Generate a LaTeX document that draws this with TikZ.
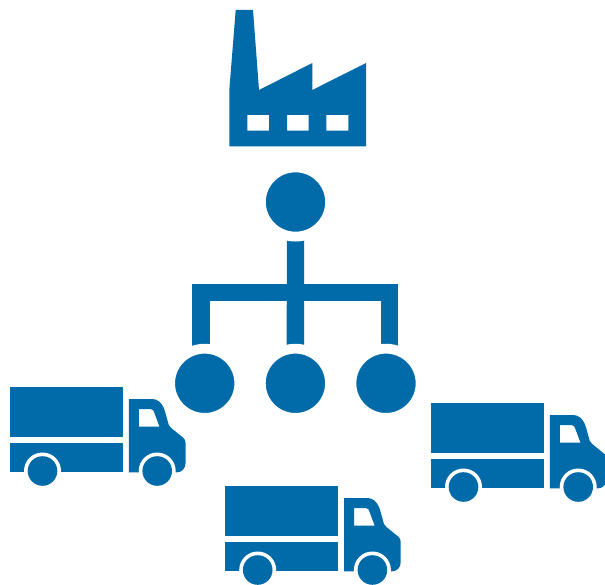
\documentclass[tikz,border=0pt]{standalone}
\usetikzlibrary{backgrounds}
\definecolor{brand}{HTML}{006BA8}
\tikzset{
  x=0.75pt,y=-0.75pt,
  hub/.style={circle,fill=brand,draw=white,line width=7.35pt,minimum size=51.9pt,inner sep=0pt,outer sep=0pt},
  link/.style={draw=brand,line width=13.05pt,line join=miter,line cap=butt},
  truck/.pic={
    \fill[brand] (0,0) rectangle (113,49.4);
    \fill[brand] (0,55.4) rectangle (113,85);
    \fill[brand,even odd rule]
      (119,11.7) -- (142.4,11.7) .. controls (147.5,11.7) and (151.5,15) .. (154,20.7)
      .. controls (156,26) and (157.5,33) .. (159,37.7)
      -- (161.4,40.7) -- (173.5,50.5) .. controls (175,52) and (175.7,53.5) .. (175.7,55.7)
      -- (175.7,76) .. controls (175.7,81) and (172,85) .. (167.4,85) -- (119,85) -- cycle
      (129,21.7) -- (140.7,21.7) .. controls (143,21.7) and (144.2,23.5) .. (144.7,26)
      -- (149.7,39.4) -- (129,39.4) -- cycle;
    \fill[white] (32.7,83.7) circle[radius=18.5];
    \fill[white] (147.4,83.7) circle[radius=18.5];
    \fill[brand] (32.7,83.7) circle[radius=14.8];
    \fill[brand] (147.4,83.7) circle[radius=14.8];
  }
}
\begin{document}
\begin{tikzpicture}
\useasboundingbox (0,0) rectangle (605,584);
% factory
\fill[brand,even odd rule]
  (235.7,10) -- (253,10) -- (259,90) -- (312.3,63) -- (312.3,90) -- (366,63)
  -- (366,146.3) -- (229.3,146.3) -- (229.3,90) -- cycle
  (247.3,115) rectangle (269,130.7)
  (287,115) rectangle (308.7,130.7)
  (326.3,115) rectangle (348.3,130.7);
% hierarchy
\node[hub] (top) at (295.5,202) {};
\node[hub] (left) at (204.7,383.3) {};
\node[hub] (mid) at (295.4,383.3) {};
\node[hub] (right) at (386,383.3) {};
\coordinate (cornerL) at (201.15,292.7);
\coordinate (cornerR) at (389.7,292.7);
\begin{scope}[on background layer]
  \draw[link] (top) -- (mid);
  \draw[link] (cornerL |- left) -- (cornerL) -- (cornerR) -- (cornerR |- right);
\end{scope}
% trucks
\pic at (9.8,387.3) {truck};
\pic at (430.8,403.3) {truck};
\pic at (225,486.3) {truck};
\end{tikzpicture}
\end{document}
